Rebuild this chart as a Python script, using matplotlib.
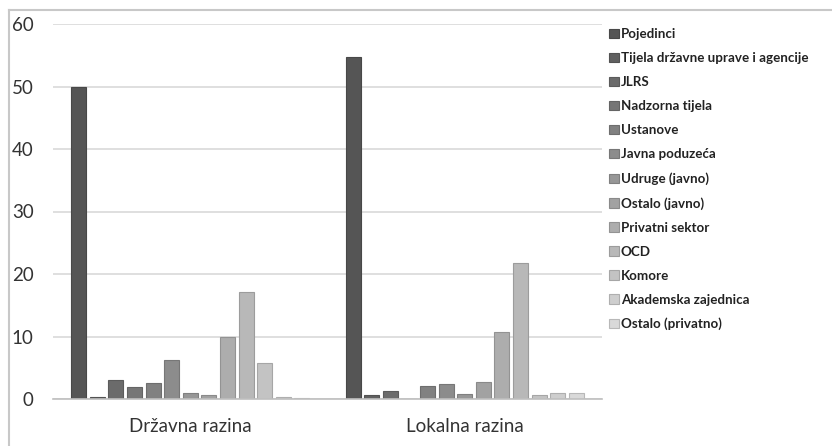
import matplotlib
matplotlib.use("Agg")
import matplotlib.pyplot as plt
from matplotlib.lines import Line2D
import numpy as np

categories = ["Državna razina", "Lokalna razina"]
series = ["Pojedinci", "Tijela državne uprave i agencije", "JLRS", "Nadzorna tijela",
          "Ustanove", "Javna poduzeća", "Udruge (javno)", "Ostalo (javno)",
          "Privatni sektor", "OCD", "Komore", "Akademska zajednica", "Ostalo (privatno)"]
drzavna = [50.0, 0.4, 3.1, 2.0, 2.5, 6.2, 1.0, 0.6, 10.0, 17.2, 5.8, 0.4, 0.15]
lokalna = [54.8, 0.6, 1.3, 0.0, 2.1, 2.4, 0.75, 2.7, 10.7, 21.7, 0.6, 1.0, 1.0]
yticks = [0, 10, 20, 30, 40, 50, 60]

plt.rcParams['font.family'] = ['Lato', 'DejaVu Sans']

W, H = 832, 446
fig = plt.figure(figsize=(W/100, H/100), dpi=100)
ax = fig.add_axes([53/W, 1-399/H, (602-53)/W, (399-24)/H])

n = len(series)
grays = np.linspace(0x55, 0xd9, n) / 255.0
pitch = 0.0678
width = 0.0546
x = np.arange(len(categories))
for i, name in enumerate(series):
    vals = [drzavna[i], lokalna[i]]
    g = grays[i]
    ax.bar(x + (i - (n-1)/2) * pitch, vals, width,
           color=(g, g, g), edgecolor=(g*0.85, g*0.85, g*0.85), linewidth=0.8,
           label=name, zorder=3)

ax.set_xlim(-0.5, 1.5)
ax.set_ylim(0, 60)
ax.set_yticks(yticks)
ax.set_yticklabels([str(v) for v in yticks], fontsize=13.5, color='#333333')
ax.set_xticks(x)
ax.set_xticklabels(categories, fontsize=13.5, color='#333333')
ax.tick_params(axis='y', length=0, pad=14)
ax.tick_params(axis='x', length=0, pad=14)
ax.yaxis.grid(True, color='#d9d9d9', linewidth=1.2, zorder=0)
for s in ['top', 'right', 'left']:
    ax.spines[s].set_visible(False)
ax.spines['bottom'].set_color('#bfbfbf')
ax.spines['bottom'].set_linewidth(1.2)
ax.spines['bottom'].set_zorder(4)

leg = fig.legend(loc='upper left', bbox_to_anchor=(604/W, 1-23/H), frameon=False,
                 fontsize=9.6, handlelength=0.7, handleheight=0.7, handletextpad=0.15,
                 labelspacing=0.9, borderaxespad=0)
for t in leg.get_texts():
    t.set_fontweight('bold')
    t.set_color('#222222')

# outer border (left and top)
fig.add_artist(Line2D([9/W, 9/W], [0, 1-10/H], transform=fig.transFigure, color='#c8c8c8', linewidth=1.5))
fig.add_artist(Line2D([9/W, 1], [1-10/H, 1-10/H], transform=fig.transFigure, color='#c8c8c8', linewidth=1.5))

fig.savefig("out.png", dpi=100)
